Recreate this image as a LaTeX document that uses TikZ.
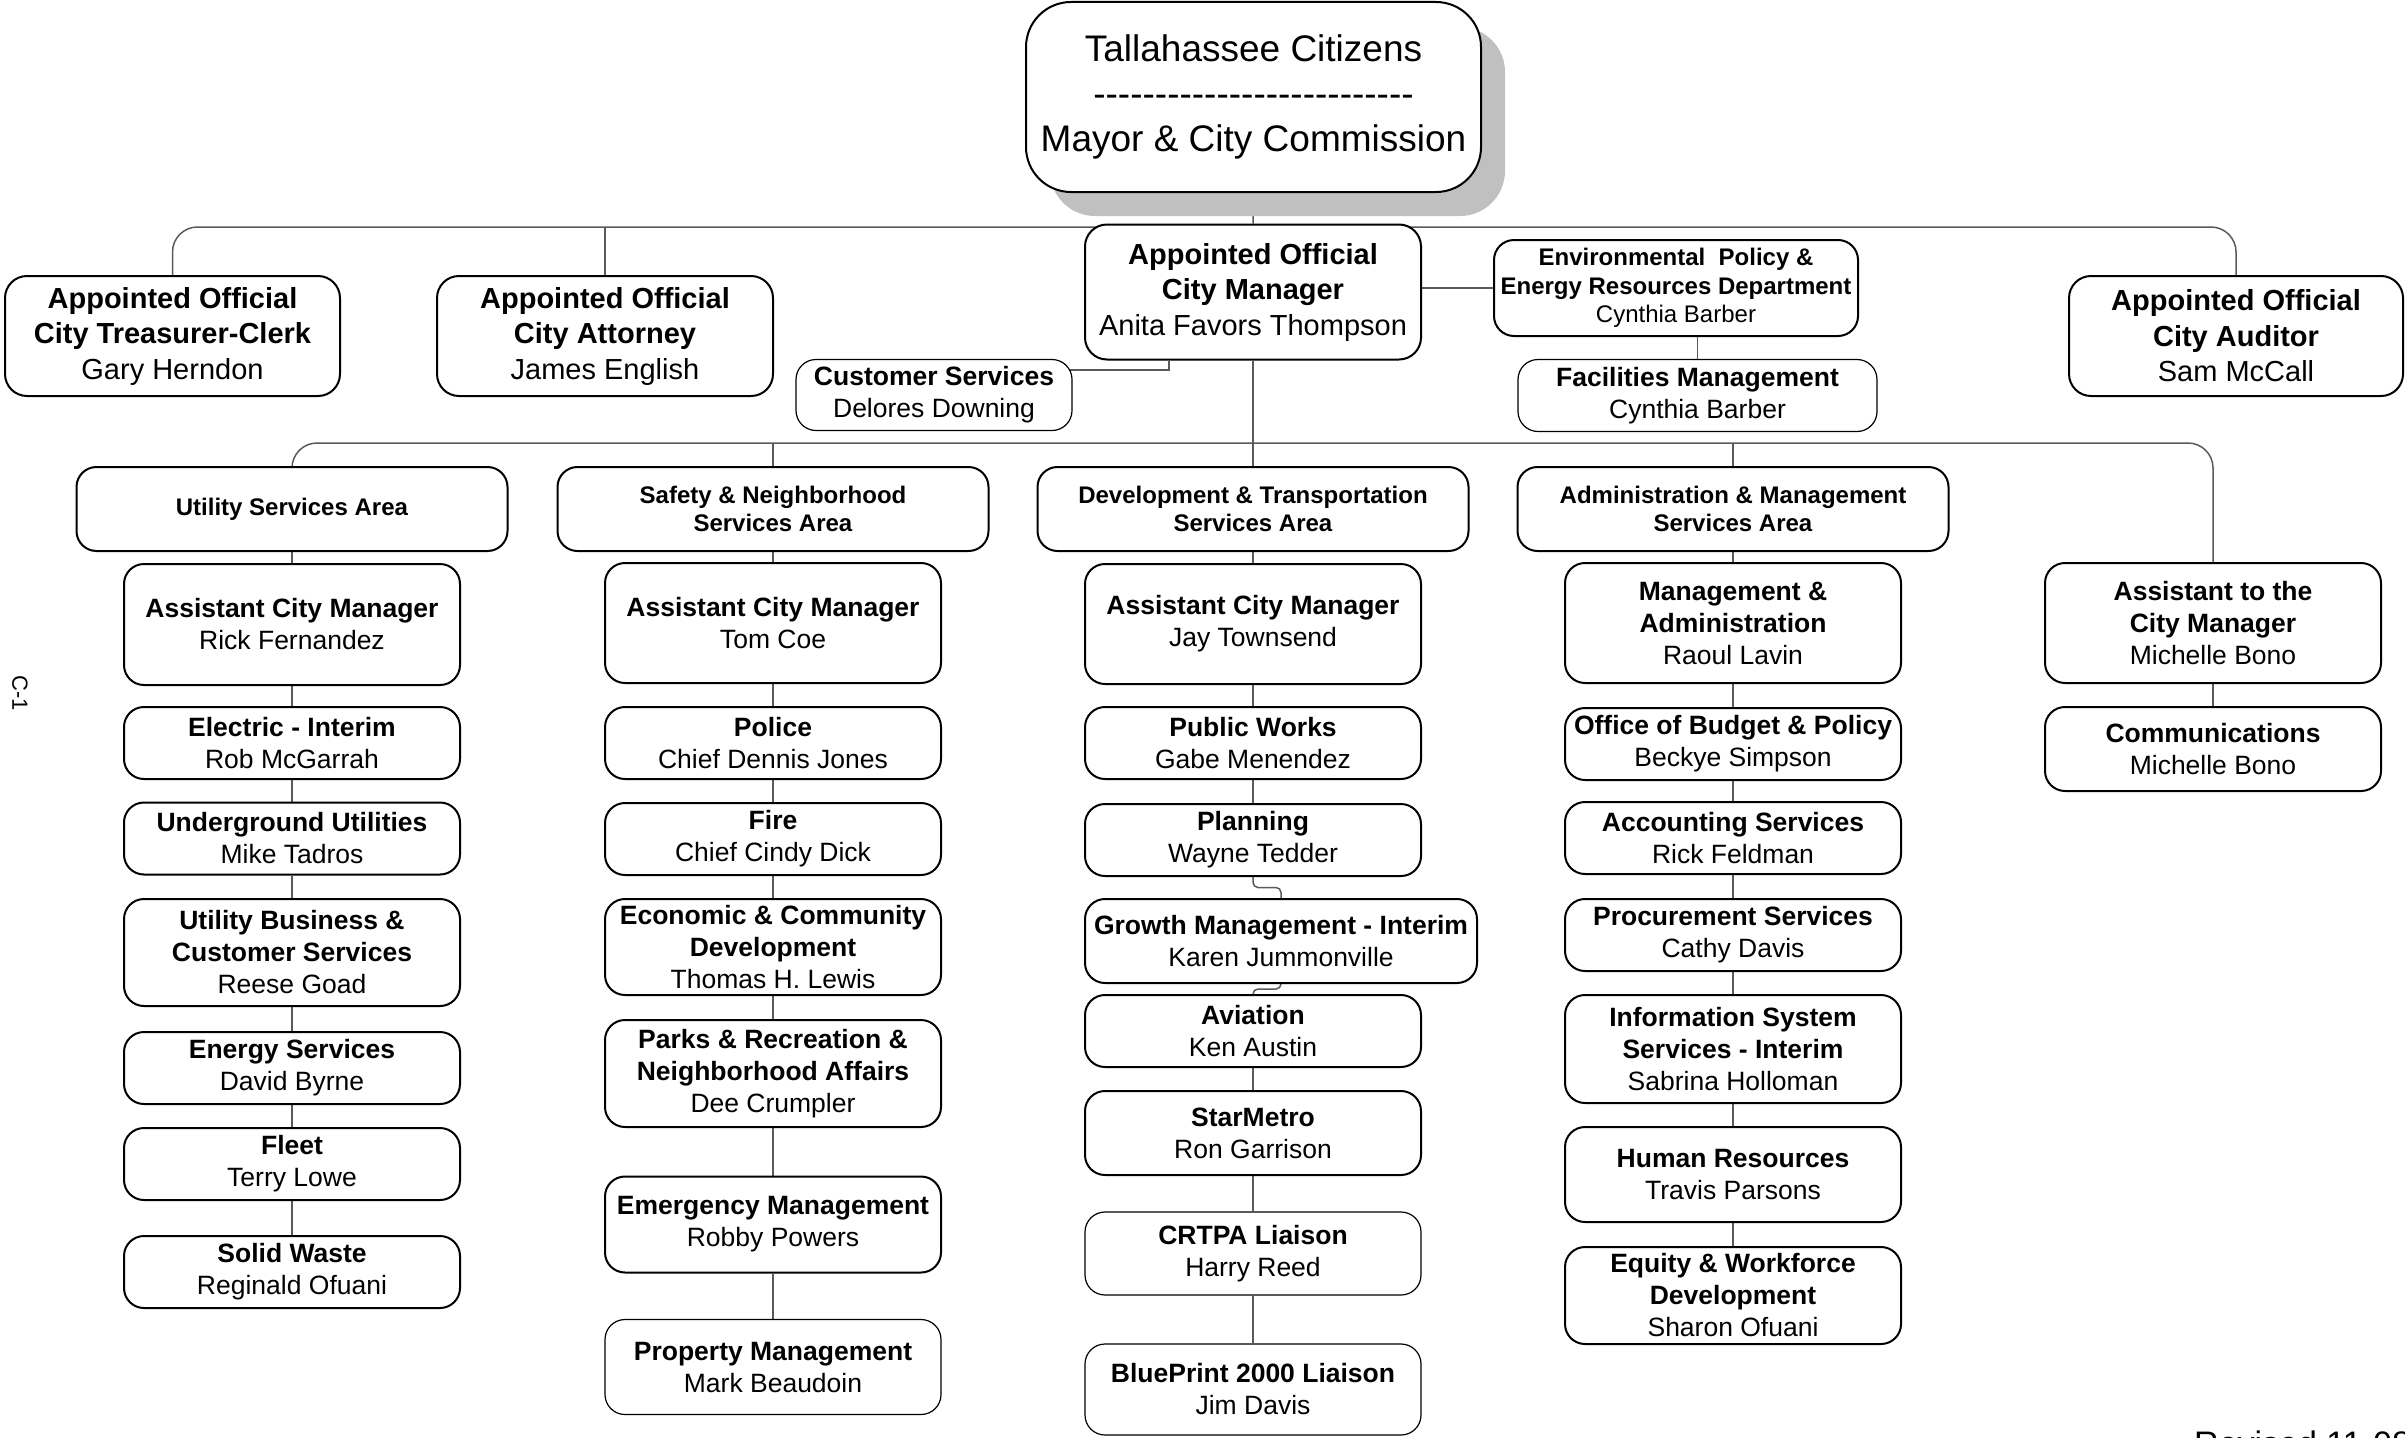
\documentclass[tikz,border=0pt]{standalone}
\usepackage{fontspec}
\setmainfont{Liberation Sans}
\usetikzlibrary{calc,backgrounds}
\definecolor{shadowgray}{HTML}{C0C0C0}
\definecolor{conncol}{HTML}{5A5A5A}
\tikzset{
  box/.style={draw=black, line width=2pt, rounded corners=20pt, fill=white, align=center, inner sep=0pt,
              font=\fontsize{26.5}{32}\selectfont},
  thinbox/.style={box, line width=1.2pt},
  colbox/.style={box, minimum width=336pt},
  thincolbox/.style={thinbox, minimum width=336pt},
  apbox/.style={box, rounded corners=22pt, font=\fontsize{29}{35.5}\selectfont},
  areabox/.style={box, minimum width=431pt, minimum height=84pt, font=\fontsize{24}{27.5}\selectfont},
  conn/.style={draw=conncol, line width=1.5pt},
}
\newcommand\hyph{-{}}
\begin{document}
\begin{tikzpicture}[x=1pt,y=-1pt]
\useasboundingbox (0,0) rectangle (2405,1437);
\clip (0,0) rectangle (2405,1437);

% top box with shadow
\fill[shadowgray, rounded corners=45pt] (1050,27) rectangle (1505,216);
\node[box, rounded corners=45pt, minimum width=455pt, minimum height=190pt,
      font=\fontsize{37}{45}\selectfont] (top) at (1253.5,97)
  {Tallahassee Citizens\\\hyph\hyph\hyph\hyph\hyph\hyph\hyph\hyph\hyph\hyph\hyph\hyph\hyph\hyph\hyph\hyph\hyph\hyph\hyph\hyph\hyph\hyph\hyph\hyph\hyph\hyph\\Mayor \& City Commission};

% appointed officials row
\node[apbox, minimum width=335pt, minimum height=120pt] (treas) at (172.5,336)
  {\textbf{Appointed Official}\\\textbf{City Treasurer-Clerk}\\Gary Herndon};
\node[apbox, minimum width=336pt, minimum height=120pt] (att) at (605,336)
  {\textbf{Appointed Official}\\\textbf{City Attorney}\\James English};
\node[apbox, minimum width=336pt, minimum height=135pt] (cm) at (1253,292)
  {\textbf{Appointed Official}\\\textbf{City Manager}\\Anita Favors Thompson};
\node[apbox, minimum width=334pt, minimum height=120pt] (aud) at (2236,336)
  {\textbf{Appointed Official}\\\textbf{City Auditor}\\Sam McCall};
\node[box, minimum width=364pt, minimum height=96pt, font=\fontsize{24}{28.5}\selectfont] (env) at (1676,288)
  {\textbf{Environmental\ \ Policy \&}\\\textbf{Energy Resources Department}\\Cynthia Barber};
\node[thinbox, minimum width=276pt, minimum height=71pt] (cs) at (934,395)
  {\textbf{Customer Services}\\Delores Downing};
\node[thinbox, minimum width=359pt, minimum height=72pt] (fac) at (1697.5,395.5)
  {\textbf{Facilities Management}\\Cynthia Barber};

% service areas
\node[areabox] (util) at (292,509) {\textbf{Utility Services Area}};
\node[areabox] (safe) at (773,509) {\textbf{Safety \& Neighborhood}\\\textbf{Services Area}};
\node[areabox] (dev) at (1253,509) {\textbf{Development \& Transportation}\\\textbf{Services Area}};
\node[areabox] (adm) at (1733,509) {\textbf{Administration \& Management}\\\textbf{Services Area}};

% column 1
\node[colbox, minimum height=121pt] (a1) at (292,624.5) {\textbf{Assistant City Manager}\\Rick Fernandez};
\node[colbox, minimum height=72pt] (a2) at (292,743) {\textbf{Electric - Interim}\\Rob McGarrah};
\node[colbox, minimum height=72pt] (a3) at (292,838.5) {\textbf{Underground Utilities}\\Mike Tadros};
\node[colbox, minimum height=107pt] (a4) at (292,952.5) {\textbf{Utility Business \&}\\\textbf{Customer Services}\\Reese Goad};
\node[colbox, minimum height=72pt] (a5) at (292,1068) {\textbf{Energy Services}\\David Byrne};
\node[colbox, minimum height=72pt] (a6) at (292,1164) {\textbf{Fleet}\\Terry Lowe};
\node[colbox, minimum height=72pt] (a7) at (292,1272) {\textbf{Solid Waste}\\Reginald Ofuani};

% column 2
\node[colbox, minimum height=120pt] (b1) at (773,623) {\textbf{Assistant City Manager}\\Tom Coe};
\node[colbox, minimum height=72pt] (b2) at (773,743) {\textbf{Police}\\Chief Dennis Jones};
\node[colbox, minimum height=72pt] (b3) at (773,839) {\textbf{Fire}\\Chief Cindy Dick};
\node[colbox, minimum height=96pt] (b4) at (773,947) {\textbf{Economic \& Community}\\\textbf{Development}\\Thomas H. Lewis};
\node[colbox, minimum height=107pt] (b5) at (773,1073.5) {\textbf{Parks \& Recreation \&}\\\textbf{Neighborhood Affairs}\\Dee Crumpler};
\node[colbox, minimum height=96pt] (b6) at (773,1224.5) {\textbf{Emergency Management}\\Robby Powers};
\node[thincolbox, minimum height=95pt] (b7) at (773,1367) {\textbf{Property Management}\\Mark Beaudoin};

% column 3
\node[colbox, minimum height=120pt] (c1) at (1253,624) {\textbf{Assistant City Manager}\\Jay Townsend};
\node[colbox, minimum height=72pt] (c2) at (1253,743) {\textbf{Public Works}\\Gabe Menendez};
\node[colbox, minimum height=72pt] (c3) at (1253,840) {\textbf{Planning}\\Wayne Tedder};
\node[box, minimum width=392pt, minimum height=84pt] (c4) at (1281,941) {\textbf{Growth Management - Interim}\\Karen Jummonville};
\node[colbox, minimum height=72pt] (c5) at (1253,1031) {\textbf{Aviation}\\Ken Austin};
\node[colbox, minimum height=84pt] (c6) at (1253,1133) {\textbf{StarMetro}\\Ron Garrison};
\node[thincolbox, minimum height=83pt] (c7) at (1253,1253.5) {\textbf{CRTPA Liaison}\\Harry Reed};
\node[thincolbox, minimum height=91pt] (c8) at (1253,1389.5) {\textbf{BluePrint 2000 Liaison}\\Jim Davis};

% column 4
\node[colbox, minimum height=120pt] (d1) at (1733,623) {\textbf{Management \&}\\\textbf{Administration}\\Raoul Lavin};
\node[colbox, minimum height=72pt] (d2) at (1733,744) {\textbf{Office of Budget \& Policy}\\Beckye Simpson};
\node[colbox, minimum height=72pt] (d3) at (1733,838) {\textbf{Accounting Services}\\Rick Feldman};
\node[colbox, minimum height=72pt] (d4) at (1733,935) {\textbf{Procurement Services}\\Cathy Davis};
\node[colbox, minimum height=108pt] (d5) at (1733,1049) {\textbf{Information System}\\\textbf{Services - Interim}\\Sabrina Holloman};
\node[colbox, minimum height=95pt] (d6) at (1733,1174.5) {\textbf{Human Resources}\\Travis Parsons};
\node[colbox, minimum height=97pt] (d7) at (1733,1295.5) {\textbf{Equity \& Workforce}\\\textbf{Development}\\Sharon Ofuani};

% column 5
\node[colbox, minimum height=120pt] (e1) at (2213,623) {\textbf{Assistant to the}\\\textbf{City Manager}\\Michelle Bono};
\node[colbox, minimum height=84pt] (e2) at (2213,749) {\textbf{Communications}\\Michelle Bono};

% margin texts
\node[rotate=-90, inner sep=0pt, font=\fontsize{22}{26}\selectfont] (pagenum) at (20,693) {C-1};
\node[anchor=north west, inner sep=0pt, font=\fontsize{34}{40}\selectfont] (rev) at (2194,1431) {Revised 11-08};

\coordinate (bus1) at (1253,227);
\coordinate (bus2) at (1253,443);

\begin{scope}[on background layer]
  \draw[conn, rounded corners=25pt] (treas.north) |- (bus1) -| (aud.north);
  \draw[conn] (att.north) -- (att.north |- bus1);
  \draw[conn] (top.south) -- (cm.north);
  \draw[conn] (env.west) -- (env.west -| cm.east);
  \draw[conn] (fac.north) -- (fac.north |- env.south);
  \draw[conn] ($(cm.south)+(-84,0)$) |- ($(cs.north east)+(-10,11)$);
  \draw[conn, rounded corners=25pt] (util.north) |- (bus2) -| (e1.north);
  \draw[conn] (cm.south) -- (dev.north);
  \draw[conn] (safe.north) -- (safe.north |- bus2);
  \draw[conn] (adm.north) -- (adm.north |- bus2);
  % columns
  \draw[conn] (util.south) -- (a1.north) (a1.south) -- (a2.north) (a2.south) -- (a3.north)
              (a3.south) -- (a4.north) (a4.south) -- (a5.north) (a5.south) -- (a6.north)
              (a6.south) -- (a7.north);
  \draw[conn] (safe.south) -- (b1.north) (b1.south) -- (b2.north) (b2.south) -- (b3.north)
              (b3.south) -- (b4.north) (b4.south) -- (b5.north) (b5.south) -- (b6.north)
              (b6.south) -- (b7.north);
  \draw[conn] (dev.south) -- (c1.north) (c1.south) -- (c2.north) (c2.south) -- (c3.north)
              (c5.south) -- (c6.north) (c6.south) -- (c7.north) (c7.south) -- (c8.north);
  \draw[conn, rounded corners=5pt] (c3.south) |- ($(c3.south)!0.5!(c4.north)$) -| (c4.north);
  \draw[conn, rounded corners=5pt] (c4.south) |- ($(c4.south)!0.5!(c5.north)$) -| (c5.north);
  \draw[conn] (adm.south) -- (d1.north) (d1.south) -- (d2.north) (d2.south) -- (d3.north)
              (d3.south) -- (d4.north) (d4.south) -- (d5.north) (d5.south) -- (d6.north)
              (d6.south) -- (d7.north);
  \draw[conn] (e1.south) -- (e2.north);
\end{scope}
\end{tikzpicture}
\end{document}
